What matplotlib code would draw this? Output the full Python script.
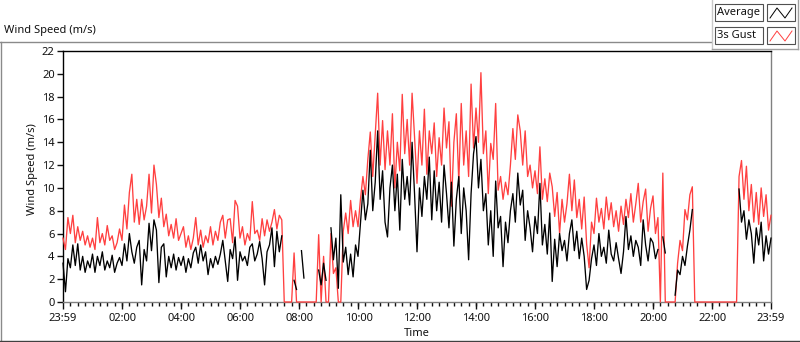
import numpy as np
import matplotlib
matplotlib.use('Agg')
import matplotlib.pyplot as plt
from matplotlib.lines import Line2D
from matplotlib.patches import Rectangle

plt.rcParams['font.family'] = ['Noto Sans', 'DejaVu Sans']

nan = np.nan

# 5-minute samples from 23:59 (previous day) to 23:59
gust = [
    5.6, 4.6, 7.4, 6.0, 7.6, 5.2, 6.6, 5.4, 6.2, 5.0, 5.8, 4.8,
    5.6, 4.6, 7.4, 5.2, 6.0, 5.0, 6.7, 5.4, 5.8, 4.6, 5.2, 6.4,
    5.4, 8.5, 6.4, 9.6, 11.2, 7.0, 9.0, 6.8, 9.0, 7.2, 8.4, 11.2,
    7.8, 12.0, 10.3, 7.4, 9.1, 6.6, 7.7, 5.8, 6.8, 5.6, 7.3, 5.4,
    6.0, 6.6, 4.8, 5.8, 4.6, 5.6, 7.4, 5.0, 6.3, 4.8, 5.8, 5.2,
    6.6, 5.0, 6.2, 5.4, 7.0, 7.6, 5.6, 7.2, 7.3, 5.2, 8.9, 8.4,
    5.6, 6.6, 5.0, 6.0, 5.4, 8.8, 6.0, 6.3, 5.4, 7.3, 5.8, 7.2,
    6.2, 7.0, 8.1, 6.4, 7.6, 7.2, 0, 0, 0, 0, 4.3, 0,
    0, 0, 0, 0, 0, 0, 0, 0, 5.9, 0, 4.0, 0,
    0, 6.0, 2.5, 3.0, 0, 0, 6.2, 7.8, 6.0, 8.9, 6.6, 8.0,
    6.6, 9.0, 11.0, 9.4, 12.5, 14.9, 11.0, 14.6, 18.3, 12.0, 15.9, 11.6,
    15.0, 12.0, 16.5, 10.0, 14.0, 11.5, 18.2, 13.0, 16.0, 12.0, 18.3, 14.5,
    10.4, 15.0, 12.0, 16.9, 11.2, 15.0, 13.0, 15.7, 11.0, 14.4, 12.0, 17.0,
    13.5, 15.8, 8.4, 14.0, 16.5, 10.5, 17.4, 12.0, 15.0, 11.0, 19.1, 13.5,
    17.0, 14.0, 20.1, 13.0, 15.0, 9.5, 13.9, 12.5, 17.4, 9.8, 11.0, 9.0,
    10.5, 9.4, 12.0, 15.2, 12.5, 16.4, 15.0, 12.0, 15.0, 11.0, 12.0, 10.0,
    11.5, 9.5, 13.6, 9.0, 10.8, 8.8, 11.3, 10.1, 7.5, 9.6, 6.0, 9.0,
    7.0, 8.6, 11.2, 8.0, 10.7, 7.4, 9.0, 6.4, 9.2, 5.1, 3.0, 7.0,
    6.0, 9.1, 7.0, 8.2, 6.4, 9.2, 7.2, 8.7, 6.6, 8.0, 6.2, 8.4,
    6.8, 9.0, 7.4, 9.5, 7.0, 8.6, 10.4, 7.0, 8.8, 9.9, 6.2, 8.2,
    9.3, 6.0, 7.4, 0, 11.3, 0, 0, 0, 0, 0, 3.4, 5.4,
    4.5, 8.1, 7.2, 9.4, 10.1, 0, 0, 0, 0, 0, 0, 0,
    0, 0, 0, 0, 0, 0, 0, 0, 0, 0, 0, 11.0,
    12.4, 9.0, 11.9, 8.0, 10.3, 7.0, 9.6, 6.8, 10.0, 7.5, 9.4, 6.3, 7.6,
]

average = [
    3.4, 0.9, 3.8, 3.0, 5.0, 3.2, 5.1, 2.8, 4.0, 2.6, 3.6, 3.0,
    4.2, 2.6, 4.0, 3.2, 4.4, 2.8, 3.6, 3.0, 4.1, 2.6, 3.4, 3.9,
    3.2, 5.1, 3.6, 6.0, 4.4, 3.4, 4.8, 5.4, 1.5, 4.6, 3.6, 6.9,
    4.5, 7.2, 6.3, 1.7, 4.8, 5.1, 2.2, 4.0, 3.0, 4.2, 2.8, 3.9,
    3.2, 4.0, 2.6, 3.8, 3.0, 4.3, 4.8, 3.4, 5.0, 3.6, 4.4, 2.4,
    3.8, 3.0, 4.0, 3.3, 4.2, 5.4, 3.6, 1.8, 4.6, 3.8, 5.7, 1.9,
    4.4, 3.6, 4.0, 3.2, 4.8, 5.1, 3.6, 4.2, 5.3, 3.8, 1.5, 4.4,
    5.0, 6.5, 3.1, 6.2, 4.4, 5.8, nan, nan, nan, nan, 1.9, 1.1,
    nan, 4.5, 2.1, nan, nan, nan, nan, nan, 2.8, 1.5, 3.4, 1.9,
    nan, 6.5, 3.7, 5.6, 1.2, 9.4, 3.5, 4.8, 2.4, 4.2, 2.2, 5.0,
    4.0, 6.9, 9.8, 7.2, 8.6, 13.3, 8.0, 10.5, 15.0, 9.0, 11.5, 7.0,
    5.7, 10.0, 12.0, 8.0, 11.2, 6.3, 12.5, 9.0, 11.0, 8.5, 14.0, 9.5,
    4.4, 10.0, 7.5, 11.0, 9.0, 12.7, 7.2, 11.5, 8.0, 10.5, 7.0, 12.0,
    9.5, 6.5, 10.5, 4.9, 9.0, 11.0, 6.0, 10.0, 8.0, 3.7, 9.5, 13.0,
    14.5, 10.0, 12.5, 8.0, 9.5, 5.0, 8.0, 4.0, 10.6, 6.5, 7.5, 3.1,
    7.0, 5.2, 8.0, 9.5, 7.0, 11.3, 8.5, 9.8, 5.4, 8.0, 6.5, 4.4,
    7.5, 6.0, 10.4, 5.0, 6.8, 4.2, 7.8, 1.8, 5.5, 3.1, 6.0, 4.5,
    5.4, 3.6, 6.0, 7.2, 4.5, 6.2, 3.8, 5.6, 4.0, 1.1, 1.9, 3.8,
    5.0, 3.2, 6.0, 4.0, 4.8, 3.4, 6.3, 4.2, 3.6, 5.2, 3.8, 2.5,
    4.4, 7.5, 4.6, 5.8, 4.0, 5.4, 4.8, 3.2, 7.2, 5.0, 3.6, 5.6,
    5.2, 3.8, 4.6, nan, 5.7, 4.3, nan, nan, nan, 0.6, 2.8, 2.4,
    4.0, 3.2, 4.9, 6.3, 8.1, nan, nan, nan, nan, nan, nan, nan,
    nan, nan, nan, nan, nan, nan, nan, nan, nan, nan, nan, 9.9,
    7.0, 8.0, 5.5, 7.2, 6.0, 3.4, 6.5, 5.0, 7.0, 3.6, 5.8, 4.2, 5.6,
]

time_min = np.arange(len(gust)) * 5 - 1
tick_pos = [-1, 120, 240, 360, 480, 600, 720, 840, 960, 1080, 1200, 1320, 1439]
tick_labels = ['23:59', '02:00', '04:00', '06:00', '08:00', '10:00', '12:00',
               '14:00', '16:00', '18:00', '20:00', '22:00', '23:59']
y_ticks = list(range(0, 23, 2))

W, H = 800, 342
fig = plt.figure(figsize=(W / 100, H / 100), dpi=100)

def fx(px):
    return px / W

def fy(py):
    return 1 - py / H

# axes
left, right, top, bottom = 63, 771, 51, 302
ax = fig.add_axes([fx(left), fy(bottom), (right - left) / W, (bottom - top) / H])
ax.plot(time_min, gust, color='#ff4040', lw=0.95, clip_on=False, zorder=3)
ax.plot(time_min, average, color='black', lw=0.95, clip_on=False, zorder=4)
ax.set_xlim(-1, 1439)
ax.set_ylim(0, 22)
ax.set_yticks(y_ticks)
ax.set_xticks(tick_pos)
ax.set_xticklabels(tick_labels)
ax.set_xticks(np.arange(14, 1439, 15), minor=True)
ax.tick_params(axis='both', which='major', labelsize=8, colors='#111111', length=4, width=1, pad=2)
ax.tick_params(axis='x', which='minor', length=3, width=1, colors='#111111')
ax.tick_params(axis='x', which='major', length=5, pad=3)
for s in ['left', 'top']:
    ax.spines[s].set_color('black')
    ax.spines[s].set_linewidth(1.0)
for s in ['right', 'bottom']:
    ax.spines[s].set_color('#808080')
    ax.spines[s].set_linewidth(1.0)

fig.text(fx(32), fy(169), 'Wind Speed (m/s)', rotation=90, ha='center', va='center', fontsize=8, color='#111111')
fig.text(fx(417), fy(334), 'Time', ha='center', va='center', fontsize=8, color='#111111')
fig.text(fx(4), fy(31), 'Wind Speed (m/s)', ha='left', va='center', fontsize=8, color='#111111')

# panel borders
fig.add_artist(Line2D([fx(0), fx(711)], [fy(42), fy(42)], color='#8a8a8a', lw=1))
fig.add_artist(Line2D([fx(0.5), fx(0.5)], [fy(42), fy(341)], color='#8a8a8a', lw=1))
fig.add_artist(Line2D([fx(0), fx(800)], [fy(341), fy(341)], color='#404040', lw=1))

# legend panel
fig.add_artist(Line2D([fx(711.5), fx(711.5)], [fy(0), fy(49)], color='#c8c8c8', lw=1))
fig.add_artist(Line2D([fx(711.5), fx(798)], [fy(49), fy(49)], color='#a0a0a0', lw=1))
fig.add_artist(Line2D([fx(798), fx(798)], [fy(0), fy(49)], color='#a0a0a0', lw=1))

legend_names = ['Average', '3s Gust']
legend_colors = ['black', '#ff4040']
for k, (name, col) in enumerate(zip(legend_names, legend_colors)):
    y0 = 4 + k * 23
    fig.add_artist(Rectangle((fx(715), fy(y0 + 17)), 48 / W, 17 / H, facecolor='white',
                             edgecolor='#505050', lw=0.8))
    fig.text(fx(717), fy(y0 + 8.5), name, ha='left', va='center', fontsize=8, color='#111111')
    fig.add_artist(Rectangle((fx(767), fy(y0 + 17)), 28 / W, 17 / H, facecolor='white',
                             edgecolor='#505050', lw=0.8))
    xs = [770, 777, 785, 792]
    ys = [y0 + 14, y0 + 4, y0 + 14, y0 + 4]
    fig.add_artist(Line2D([fx(v) for v in xs], [fy(v) for v in ys], color=col, lw=0.7))

fig.savefig('out.png', dpi=100)
